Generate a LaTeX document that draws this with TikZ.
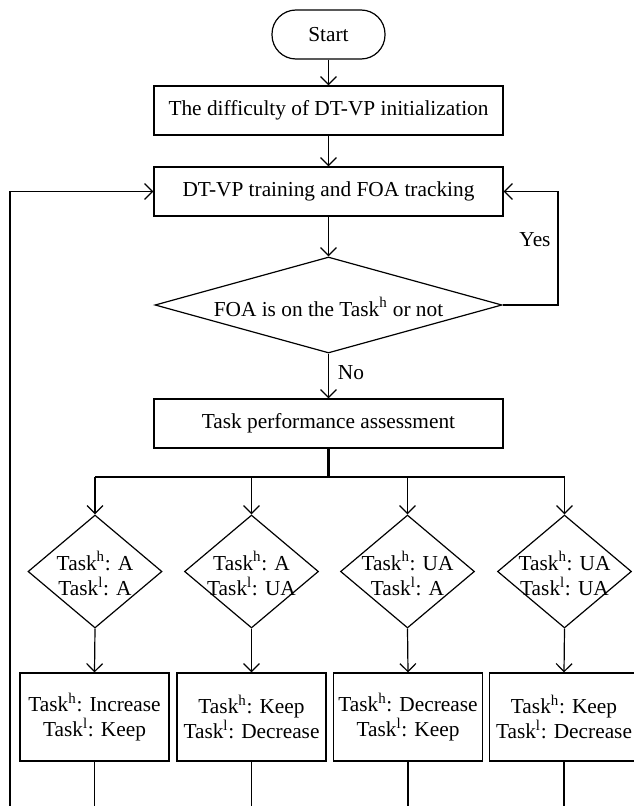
\documentclass[tikz,border=0pt]{standalone}
\usepackage{fontspec}
\setmainfont{Liberation Serif}
\usetikzlibrary{arrows.meta,shapes.geometric}
\begin{document}
\begin{tikzpicture}[x=0.75pt,y=-0.75pt,
  every node/.style={font=\fontsize{16pt}{19pt}\selectfont},
  conn/.style={line width=0.9pt},
  arr/.style={conn,-{Straight Barb[length=6pt,width=12pt,line width=0.9pt]}},
  stem/.style={line width=1.6pt},
  term/.style={draw,line width=0.9pt,rectangle,rounded corners=18pt,minimum width=84.75pt,minimum height=36.75pt,inner sep=0pt},
  bigbox/.style={draw,line width=0.9pt,rectangle,minimum width=261.75pt,minimum height=36.75pt,inner sep=0pt},
  smallbox/.style={draw,line width=0.9pt,rectangle,minimum width=111.75pt,minimum height=66pt,inner sep=0pt,align=center},
  bigdia/.style={draw,line width=0.9pt,diamond,minimum width=260.25pt,minimum height=72pt,inner sep=0pt},
  smalldia/.style={draw,line width=0.9pt,diamond,minimum width=100.5pt,minimum height=84.75pt,inner sep=0pt},
  txt/.style={inner sep=0pt,align=center}
]
\useasboundingbox (0,0) rectangle (634,806);

\node[term] (start) at (328.5,34.5) {Start};
\node[bigbox] (init) at (328.5,110.5) {The difficulty of DT-VP initialization};
\node[bigbox] (train) at (328.5,191.5) {DT-VP training and FOA tracking};
\node[bigdia] (foa) at (328.5,305) {};
\node[txt] (foatxt) at (328.5,307) {FOA is on the Task\textsuperscript{h} or not};
\node[bigbox] (assess) at (328.5,423.5) {Task performance assessment};

\node[smalldia] (d1) at (95,571.5) {};
\node[smalldia] (d2) at (251.5,571.5) {};
\node[smalldia] (d3) at (407.5,571.5) {};
\node[smalldia] (d4) at (564.5,571.5) {};
\node[txt] (t1) at (95,573.5) {Task\textsuperscript{h}: A\\Task\textsuperscript{l}: A};
\node[txt] (t2) at (251.5,573.5) {Task\textsuperscript{h}: A\\Task\textsuperscript{l}: UA};
\node[txt] (t3) at (407.5,573.5) {Task\textsuperscript{h}: UA\\Task\textsuperscript{l}: A};
\node[txt] (t4) at (564.5,573.5) {Task\textsuperscript{h}: UA\\Task\textsuperscript{l}: UA};

\node[smallbox] (o1) at (94.5,717) {Task\textsuperscript{h}: Increase\\Task\textsuperscript{l}: Keep};
\node[smallbox] (o2) at (251.5,717) {Task\textsuperscript{h}: Keep\\Task\textsuperscript{l}: Decrease};
\node[smallbox] (o3) at (408,717) {Task\textsuperscript{h}: Decrease\\Task\textsuperscript{l}: Keep};
\node[smallbox] (o4) at (564,717) {Task\textsuperscript{h}: Keep\\Task\textsuperscript{l}: Decrease};

\node[txt] (yes) at (535,240) {Yes};
\node[txt] (no) at (351,373) {No};

\coordinate (R) at (558,305);
\coordinate (L) at (10,806);
\coordinate (j) at (328.5,477);
\coordinate (b1) at (95,477);
\coordinate (b2) at (251.5,477);
\coordinate (b3) at (407.5,477);
\coordinate (b4) at (564.5,477);
\coordinate (e1) at (94.5,806);
\coordinate (e2) at (251.5,806);
\coordinate (e3) at (408,806);
\coordinate (e4) at (564,806);

\draw[arr] (start) -- (init);
\draw[arr] (init) -- (train);
\draw[arr] (train) -- (foa);
\draw[arr] (foa) -- (assess);
\draw[arr] (foa.east) -- (R) |- (train.east);
\draw[arr] (L) |- (train.west);
\draw[stem] (assess.south) -- (j);
\draw[conn] (b1) -- (b4);
\draw[arr] (b1) -- (d1.north);
\draw[arr] (b2) -- (d2.north);
\draw[arr] (b3) -- (d3.north);
\draw[arr] (b4) -- (d4.north);
\draw[arr] (d1.south) -- (o1.north);
\draw[arr] (d2.south) -- (o2.north);
\draw[arr] (d3.south) -- (o3.north);
\draw[arr] (d4.south) -- (o4.north);
\draw[conn] (o1.south) -- (e1);
\draw[conn] (o2.south) -- (e2);
\draw[conn] (o3.south) -- (e3);
\draw[conn] (o4.south) -- (e4);
\end{tikzpicture}
\end{document}
